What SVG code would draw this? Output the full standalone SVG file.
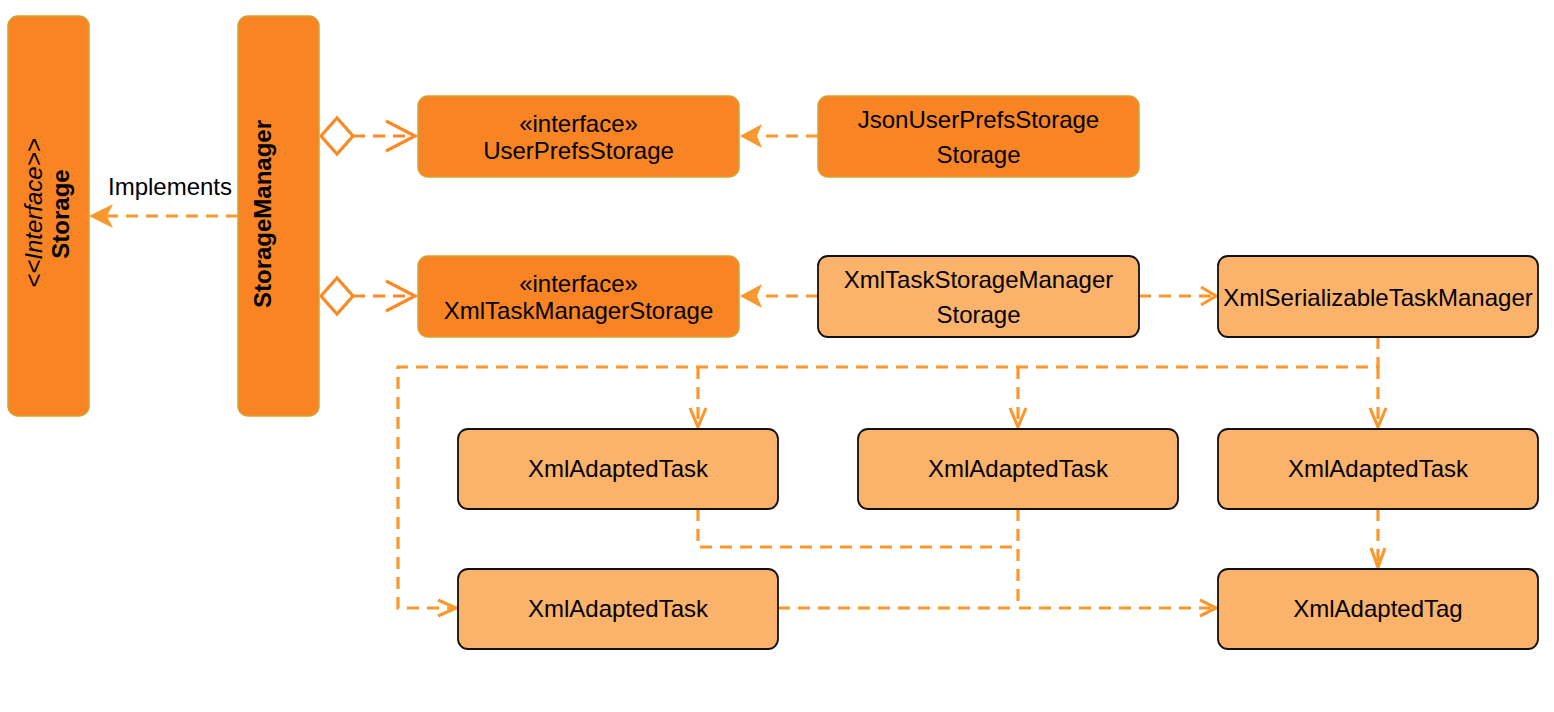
<svg xmlns="http://www.w3.org/2000/svg" width="1554" height="712" viewBox="0 0 1554 712">
<style>
.dk{fill:#F98424;stroke:#D6A030;stroke-width:1.5}
.lt{fill:#FBB26B;stroke:#111;stroke-width:1.8}
.t{font-family:"Liberation Sans",Arial,sans-serif;font-size:24px;fill:#000;text-anchor:middle}
.b{font-weight:bold}
.i{font-style:italic}
.c{fill:none;stroke:#F9982C;stroke-width:3.2;stroke-dasharray:12 8}
.h{fill:none;stroke:#F9982C;stroke-width:3.2}
.s{fill:none;stroke:#F98A27;stroke-width:3.2}
.f{fill:#F9982C;stroke:none}
</style>
<rect width="1554" height="712" fill="#fff"/>
<g id="connectors">
  <path class="c" d="M238,216 H106"/>
  <path class="f" d="M89,216 L113,204 L107,216 L113,228 Z"/>
  <text class="t" x="170" y="195">Implements</text>
  <path class="s" d="M321,136 L337,118 L353,136 L337,154 Z" fill="#fff"/>
  <path class="c" d="M353,136 H414" style="stroke:#F98A27"/>
  <path class="s" d="M386,121 L415,136 L386,151"/>
  <path class="s" d="M321,296 L337,278 L353,296 L337,314 Z" fill="#fff"/>
  <path class="c" d="M353,296 H414" style="stroke:#F98A27"/>
  <path class="s" d="M386,281 L415,296 L386,311"/>
  <path class="c" d="M818,136 H758"/>
  <path class="f" d="M740,136 L762,124 L757,136 L762,148 Z"/>
  <path class="c" d="M818,296 H758"/>
  <path class="f" d="M740,296 L762,284 L757,296 L762,308 Z"/>
  <path class="c" d="M1139,296 H1214"/>
  <path class="h" d="M1201,287 L1216,296 L1201,305"/>
  <path class="c" d="M1378,337 V367 H398 V608 H454"/>
  <path class="h" d="M438,600 L456,608 L438,616"/>
  <path class="c" d="M698,367 V425"/>
  <path class="h" d="M690,408 L698,427 L706,408"/>
  <path class="c" d="M1018,367 V425"/>
  <path class="h" d="M1010,408 L1018,427 L1026,408"/>
  <path class="c" d="M1378,367 V425"/>
  <path class="h" d="M1370,408 L1378,427 L1386,408"/>
  <path class="c" d="M698,509 V547 H1018"/>
  <path class="c" d="M1018,509 V608 H1214"/>
  <path class="c" d="M778,608 H1018"/>
  <path class="h" d="M1200,600 L1216,608 L1200,616"/>
  <path class="c" d="M1378,509 V565"/>
  <path class="h" d="M1371,548 L1378,567 L1385,548"/>
</g>
<g id="storage">
  <rect class="dk" x="8" y="16" width="81" height="400" rx="10"/>
  <text class="t i" transform="translate(42,213) rotate(-90)">&lt;&lt;Interface&gt;&gt;</text>
  <text class="t b" transform="translate(69,214) rotate(-90)">Storage</text>
</g>
<g id="storageManager">
  <rect class="dk" x="238" y="16" width="81" height="400" rx="10"/>
  <text class="t b" transform="translate(271,214) rotate(-90)">StorageManager</text>
</g>
<g id="userPrefsStorage">
  <rect class="dk" x="418" y="96" width="321" height="81" rx="10"/>
  <text class="t" x="578.5" y="132">«interface»</text>
  <text class="t" x="578.5" y="159">UserPrefsStorage</text>
</g>
<g id="xmlTaskManagerStorage">
  <rect class="dk" x="418" y="256" width="321" height="81" rx="10"/>
  <text class="t" x="578.5" y="292">«interface»</text>
  <text class="t" x="578.5" y="319">XmlTaskManagerStorage</text>
</g>
<g id="jsonUserPrefsStorage">
  <rect class="dk" x="818" y="96" width="321" height="81" rx="10"/>
  <text class="t" x="978.5" y="128">JsonUserPrefsStorage</text>
  <text class="t" x="978.5" y="163">Storage</text>
</g>
<g id="xmlTaskStorageManager">
  <rect class="lt" x="818" y="256" width="321" height="81" rx="10"/>
  <text class="t" x="978.5" y="288">XmlTaskStorageManager</text>
  <text class="t" x="978.5" y="323">Storage</text>
</g>
<g id="xmlSerializableTaskManager">
  <rect class="lt" x="1218" y="256" width="320" height="81" rx="10"/>
  <text class="t" x="1378" y="306">XmlSerializableTaskManager</text>
</g>
<g id="xmlAdaptedTask1">
  <rect class="lt" x="458" y="429" width="320" height="80" rx="10"/>
  <text class="t" x="618" y="477">XmlAdaptedTask</text>
</g>
<g id="xmlAdaptedTask2">
  <rect class="lt" x="858" y="429" width="320" height="80" rx="10"/>
  <text class="t" x="1018" y="477">XmlAdaptedTask</text>
</g>
<g id="xmlAdaptedTask3">
  <rect class="lt" x="1218" y="429" width="320" height="80" rx="10"/>
  <text class="t" x="1378" y="477">XmlAdaptedTask</text>
</g>
<g id="xmlAdaptedTask4">
  <rect class="lt" x="458" y="569" width="320" height="80" rx="10"/>
  <text class="t" x="618" y="617">XmlAdaptedTask</text>
</g>
<g id="xmlAdaptedTag">
  <rect class="lt" x="1218" y="569" width="320" height="80" rx="10"/>
  <text class="t" x="1378" y="617">XmlAdaptedTag</text>
</g>
</svg>
